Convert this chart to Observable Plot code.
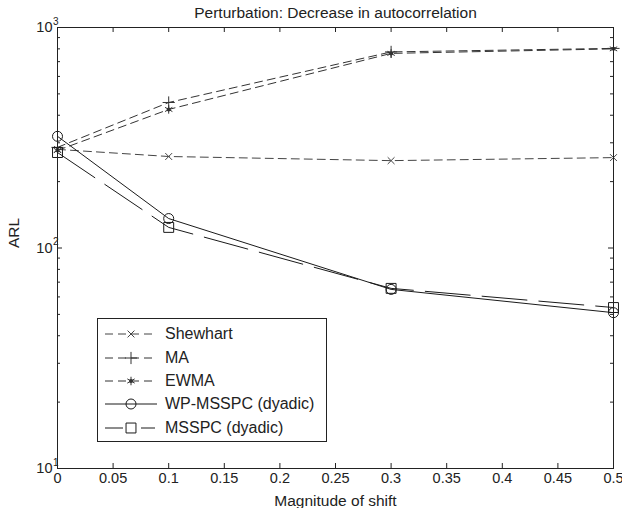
<!DOCTYPE html>
<html>
<head>
<meta charset="utf-8">
<script src="https://cdn.jsdelivr.net/npm/d3@7"></script>
<script src="https://cdn.jsdelivr.net/npm/@observablehq/plot@0.6"></script>
<style>
  body { margin: 0; background: #fff; }
  #wrap { position: relative; width: 622px; height: 508px; font-family: "Liberation Sans", Arial, sans-serif; color: #222; overflow: hidden; }
  #legend { position: absolute; left: 97px; top: 318px; width: 230px; height: 124px; border: 1px solid #222; background: #fff; box-sizing: border-box; }
  .row { position: absolute; left: 0; height: 20px; display: flex; align-items: center; font-size: 16px; white-space: nowrap; }
  .row svg { display: block; }
  .row span { margin-left: 3px; }
</style>
</head>
<body>
<div id="wrap"><div id="legend"></div></div>
<script>
// ---- data ----
const xValues = [0, 0.1, 0.3, 0.5];
const shewhart = [280, 260, 249, 257];
const ma = [286, 457, 775, 804];
const ewma = [277, 425, 763, 800];
const wpMsspc = [321, 136, 64.9, 50.9];
const msspc = [271, 124, 65.6, 53.7];
const seriesNames = ["Shewhart", "MA", "EWMA", "WP-MSSPC (dyadic)", "MSSPC (dyadic)"];
const xTicks = [0, 0.05, 0.1, 0.15, 0.2, 0.25, 0.3, 0.35, 0.4, 0.45, 0.5];
const xTickLabels = ["0", "0.05", "0.1", "0.15", "0.2", "0.25", "0.3", "0.35", "0.4", "0.45", "0.5"];
const yMajor = [10, 100, 1000];
const yExponents = ["1", "2", "3"];
const yMinor = [20, 30, 40, 50, 60, 70, 80, 90, 200, 300, 400, 500, 600, 700, 800, 900];
const titleText = "Perturbation: Decrease in autocorrelation";
const xLabel = "Magnitude of shift";
const yLabel = "ARL";

// ---- styles ----
const styles = {
  "Shewhart": {dash: "8,5", symbol: "times", r: 3.2, color: "#444"},
  "MA": {dash: "8,5", symbol: "plus", r: 4, color: "#333"},
  "EWMA": {dash: "8,5", symbol: "asterisk", r: 4, color: "#333", dot: true},
  "WP-MSSPC (dyadic)": {dash: null, symbol: "circle", r: 5, color: "#1a1a1a"},
  "MSSPC (dyadic)": {dash: "45,12", symbol: "square", r: 5.6, color: "#1a1a1a"}
};
const seriesValues = [shewhart, ma, ewma, wpMsspc, msspc];
const rows = [];
seriesNames.forEach((s, i) => xValues.forEach((x, j) => rows.push({series: s, x, y: seriesValues[i][j]})));

const W = 622, H = 508;
const mL = 57, mR = 9, mT = 27, mB = 40;
const pw = W - mL - mR, ph = H - mT - mB;
const font = "Liberation Sans, Arial, sans-serif";

const marks = [];
// ticks (inward)
marks.push(Plot.tickX(xTicks, {x: d => d, insetTop: ph - 5, stroke: "#222"}));
marks.push(Plot.tickX(xTicks, {x: d => d, insetBottom: ph - 5, stroke: "#222"}));
marks.push(Plot.tickY(yMajor, {y: d => d, insetRight: pw - 5, stroke: "#222"}));
marks.push(Plot.tickY(yMajor, {y: d => d, insetLeft: pw - 5, stroke: "#222"}));
marks.push(Plot.tickY(yMinor, {y: d => d, insetRight: pw - 3, stroke: "#222"}));
marks.push(Plot.tickY(yMinor, {y: d => d, insetLeft: pw - 3, stroke: "#222"}));

// lines and markers
seriesNames.forEach(s => {
  const st = styles[s];
  const data = rows.filter(d => d.series === s);
  marks.push(Plot.line(data, {x: "x", y: "y", stroke: st.color, strokeWidth: 1, strokeDasharray: st.dash}));
  marks.push(Plot.dot(data, {x: "x", y: "y", symbol: st.symbol, r: st.r, fill: "none", stroke: st.color, strokeWidth: 1}));
  if (st.dot) marks.push(Plot.dot(data, {x: "x", y: "y", r: 2, fill: st.color, stroke: "none"}));
});

marks.push(Plot.frame({stroke: "#222", strokeWidth: 1}));

// tick labels
marks.push(Plot.text(xTicks, {x: d => d, frameAnchor: "bottom", dy: 14, text: (d, i) => xTickLabels[i], fontSize: 14.5, fill: "#222"}));
marks.push(Plot.text(yMajor, {y: d => d, frameAnchor: "left", dx: -5, textAnchor: "end", text: () => "10", fontSize: 14.5, fill: "#222"}));
marks.push(Plot.text(yMajor, {y: d => d, frameAnchor: "left", dx: -4.5, dy: -6, textAnchor: "start", text: (d, i) => yExponents[i], fontSize: 10, fill: "#222"}));

// labels
marks.push(Plot.text([titleText], {frameAnchor: "top", dy: -21, text: d => d, fontSize: 15.5, fill: "#222"}));
marks.push(Plot.text([xLabel], {frameAnchor: "bottom", dy: 37, text: d => d, fontSize: 15.5, fill: "#222"}));
marks.push(Plot.text([yLabel], {frameAnchor: "left", dx: -43, rotate: -90, text: d => d, fontSize: 15.5, fill: "#222"}));

const chart = Plot.plot({
  width: W, height: H,
  marginLeft: mL, marginRight: mR, marginTop: mT, marginBottom: mB,
  x: {domain: [0, 0.5], axis: null},
  y: {type: "log", domain: [10, 1000], axis: null},
  style: {fontFamily: font, background: "#fff", overflow: "visible"},
  marks
});
document.getElementById("wrap").prepend(chart);

// legend (HTML overlay)
const legend = document.getElementById("legend");
const symMap = {times: d3.symbolTimes, plus: d3.symbolPlus, asterisk: d3.symbolAsterisk, circle: d3.symbolCircle, square: d3.symbolSquare};
const rowTops = [5, 29, 52, 75, 99];
seriesNames.forEach((s, i) => {
  const st = styles[s];
  const row = document.createElement("div");
  row.className = "row";
  row.style.top = rowTops[i] + "px";
  const svg = d3.create("svg").attr("width", 64).attr("height", 20);
  svg.append("line").attr("x1", 7).attr("x2", 59).attr("y1", 10).attr("y2", 10)
    .attr("stroke", st.color).attr("stroke-width", 1)
    .attr("stroke-dasharray", s === "MSSPC (dyadic)" ? "18,18,14" : st.dash);
  svg.append("path").attr("transform", "translate(33,10)")
    .attr("d", d3.symbol(symMap[st.symbol], st.r * st.r * Math.PI)())
    .attr("fill", "none").attr("stroke", st.color).attr("stroke-width", 1);
  if (st.dot) svg.append("circle").attr("cx", 33).attr("cy", 10).attr("r", 2).attr("fill", st.color);
  row.appendChild(svg.node());
  const span = document.createElement("span");
  span.textContent = s;
  row.appendChild(span);
  legend.appendChild(row);
});
</script>
</body>
</html>
